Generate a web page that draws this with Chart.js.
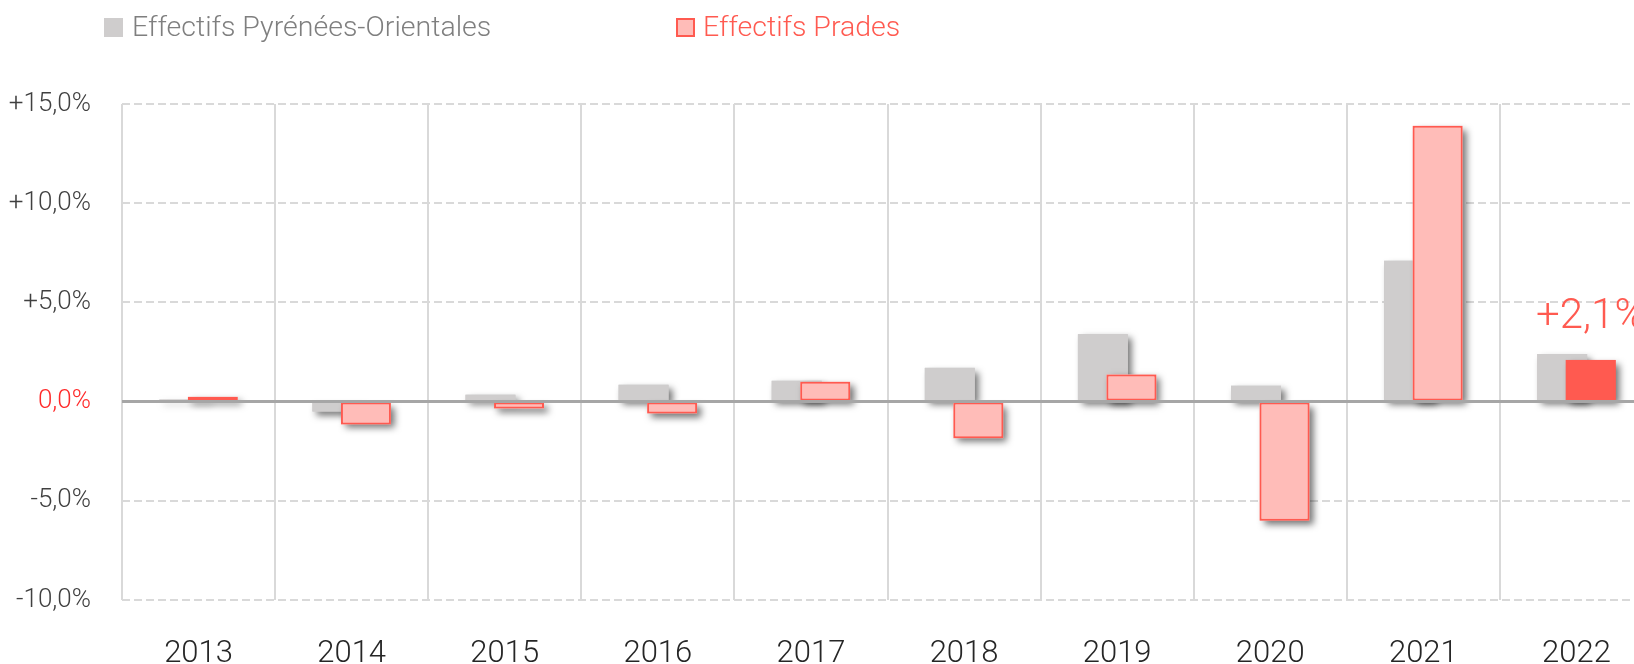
<!DOCTYPE html>
<html>
<head>
<meta charset="utf-8">
<script src="https://cdn.jsdelivr.net/npm/chart.js@4"></script>
<style>
  html, body { margin: 0; padding: 0; background: #fff; overflow: hidden; }
  body { width: 1634px; height: 664px; position: relative; font-family: Roboto, sans-serif; font-weight: 300; }
  #wrap { position: absolute; left: 0; top: 0; width: 1654px; height: 664px; }
  .leg-box { position: absolute; top: 18px; width: 19px; height: 19px; box-sizing: border-box; }
  .leg-text { position: absolute; top: 13px; font-size: 28.5px; line-height: 28px; white-space: nowrap; }
</style>
</head>
<body>
<div id="wrap"><canvas id="chart"></canvas></div>
<div class="leg-box" style="left:104px;background:#cfcdcd;"></div>
<div class="leg-text" style="left:132px;color:#7f7f7f;">Effectifs Pyrénées-Orientales</div>
<div class="leg-box" style="left:676px;background:#ffbcb8;border:2px solid #ff5a50;"></div>
<div class="leg-text" style="left:703px;color:#ff5a50;">Effectifs Prades</div>
<script>
const years = ['2013', '2014', '2015', '2016', '2017', '2018', '2019', '2020', '2021', '2022'];
const effectifsPO = [0.1, -0.5, 0.35, 0.85, 1.05, 1.7, 3.4, 0.8, 7.1, 2.4];
const effectifsPrades = [0.24, -1.15, -0.35, -0.6, 1.0, -1.85, 1.37, -6.0, 13.9, 2.1];
const yTicks = [-10, -5, 0, 5, 10, 15];

const fmt = v => (v > 0 ? '+' : '') + v.toFixed(1).replace('.', ',') + '%';

// grey first then pink over it, each with a drop shadow, then zero line and last value
const barsPlugin = {
  id: 'bars',
  beforeDatasetsDraw(chart) {
    const ctx = chart.ctx;
    chart.getSortedVisibleDatasetMetas().forEach(meta => {
      // bordered bars clip themselves, so the shadow is cast by a plain copy of each bar
      ctx.save();
      ctx.shadowColor = 'rgba(0,0,0,0.55)';
      ctx.shadowBlur = 7;
      ctx.shadowOffsetX = 4;
      ctx.shadowOffsetY = 4;
      meta.data.forEach(el => {
        const { x, y, base, width } = el.getProps(['x', 'y', 'base', 'width'], true);
        ctx.fillStyle = el.options.backgroundColor;
        ctx.fillRect(x - width / 2, Math.min(y, base), width, Math.abs(base - y));
      });
      ctx.restore();
      meta.controller.draw();
    });
    const y0 = chart.scales.y.getPixelForValue(0);
    ctx.save();
    ctx.strokeStyle = '#a6a6a6';
    ctx.lineWidth = 3;
    ctx.beginPath();
    ctx.moveTo(chart.chartArea.left, y0);
    ctx.lineTo(chart.chartArea.right, y0);
    ctx.stroke();
    const meta = chart.getDatasetMeta(1);
    const last = meta.data[meta.data.length - 1];
    const v = effectifsPrades[effectifsPrades.length - 1];
    ctx.fillStyle = '#ff5a50';
    ctx.font = '300 42px Roboto';
    ctx.textAlign = 'center';
    ctx.textBaseline = 'alphabetic';
    ctx.fillText(fmt(v), last.x, last.y - 32);
    ctx.restore();
    return false;
  }
};

new Chart(document.getElementById('chart'), {
  type: 'bar',
  data: {
    labels: years,
    datasets: [
      {
        label: 'Effectifs Pyrénées-Orientales',
        data: effectifsPO,
        backgroundColor: '#cfcdcd',
        borderWidth: 0,
        categoryPercentage: 0.373,
        barPercentage: 1.75,
      },
      {
        label: 'Effectifs Prades',
        data: effectifsPrades,
        backgroundColor: effectifsPrades.map((v, i) => i === effectifsPrades.length - 1 ? '#ff5a50' : '#ffbcb8'),
        borderColor: '#ff5a50',
        borderWidth: 2,
        borderSkipped: false,
        categoryPercentage: 0.373,
        barPercentage: 1.75,
      },
    ],
  },
  options: {
    responsive: true,
    maintainAspectRatio: false,
    animation: false,
    layout: { padding: { top: 104, right: 1, left: 0, bottom: 0 } },
    plugins: {
      legend: { display: false },
      tooltip: { enabled: false },
    },
    scales: {
      x: {
        grid: { color: '#d9d9d9', lineWidth: 2, drawTicks: false },
        border: { display: false },
        ticks: {
          color: '#262626',
          font: { family: 'Roboto', weight: 300, size: 31 },
          padding: 36,
        },
        afterFit(scale) { scale.height = 64; },
      },
      y: {
        min: -10,
        max: 15,
        afterBuildTicks(scale) { scale.ticks = yTicks.map(v => ({ value: v })); },
        grid: {
          color: c => (c.tick && c.tick.value === 0) ? 'rgba(0,0,0,0)' : '#d9d9d9',
          lineWidth: 2,
          drawTicks: false,
        },
        border: {
          display: false,
          dash: c => (c.tick && c.tick.value !== 0) ? [8, 4] : [],
        },
        ticks: {
          color: c => (c.tick && c.tick.value === 0) ? '#ff2a2a' : '#404040',
          font: { family: 'Roboto', weight: 300, size: 26 },
          padding: 31,
          callback: v => fmt(v),
        },
        afterFit(scale) { scale.width = 122; },
      },
    },
  },
  plugins: [barsPlugin],
});
</script>
</body>
</html>
